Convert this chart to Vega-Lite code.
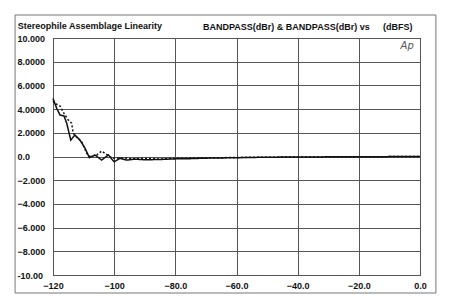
{
  "$schema": "https://vega.github.io/schema/vega-lite/v6.json",
  "width": 367,
  "height": 237,
  "autosize": {"type": "none"},
  "padding": {"left": 53, "top": 38, "right": 30, "bottom": 33},
  "background": "#ffffff",
  "config": {
    "view": {"stroke": "#333333", "strokeWidth": 1},
    "font": "Liberation Sans",
    "axis": {
      "labelFont": "Liberation Sans",
      "labelFontWeight": "bold",
      "labelFontSize": 9,
      "labelColor": "#111111",
      "labelOverlap": false,
      "gridColor": "#555555",
      "gridOpacity": 1,
      "gridWidth": 1,
      "domain": false,
      "ticks": false,
      "title": null
    }
  },
  "datasets": {
    "curves": [
      {"series": "A", "dbfs": -120, "dbr": 4.9},
      {"series": "A", "dbfs": -118.8, "dbr": 4.07},
      {"series": "A", "dbfs": -117.7, "dbr": 3.5},
      {"series": "A", "dbfs": -116.4, "dbr": 3.42},
      {"series": "A", "dbfs": -115.5, "dbr": 2.8},
      {"series": "A", "dbfs": -114.2, "dbr": 1.39},
      {"series": "A", "dbfs": -112.8, "dbr": 1.81},
      {"series": "A", "dbfs": -111.2, "dbr": 1.39},
      {"series": "A", "dbfs": -109.5, "dbr": 0.69},
      {"series": "A", "dbfs": -108.1, "dbr": -0.1},
      {"series": "A", "dbfs": -106.3, "dbr": 0.13},
      {"series": "A", "dbfs": -104.1, "dbr": -0.3},
      {"series": "A", "dbfs": -101.9, "dbr": 0.13},
      {"series": "A", "dbfs": -100, "dbr": -0.44},
      {"series": "A", "dbfs": -98.1, "dbr": -0.15},
      {"series": "A", "dbfs": -95.9, "dbr": -0.3},
      {"series": "A", "dbfs": -93, "dbr": -0.22},
      {"series": "A", "dbfs": -90, "dbr": -0.28},
      {"series": "A", "dbfs": -85, "dbr": -0.25},
      {"series": "A", "dbfs": -80, "dbr": -0.2},
      {"series": "A", "dbfs": -75, "dbr": -0.18},
      {"series": "A", "dbfs": -70, "dbr": -0.14},
      {"series": "A", "dbfs": -60, "dbr": -0.1},
      {"series": "A", "dbfs": -50, "dbr": -0.06},
      {"series": "A", "dbfs": -40, "dbr": -0.04},
      {"series": "A", "dbfs": -20, "dbr": -0.02},
      {"series": "A", "dbfs": 0, "dbr": 0},
      {"series": "B", "dbfs": -120, "dbr": 4.7},
      {"series": "B", "dbfs": -119, "dbr": 4.43},
      {"series": "B", "dbfs": -117.7, "dbr": 4.26},
      {"series": "B", "dbfs": -116.4, "dbr": 3.64},
      {"series": "B", "dbfs": -115, "dbr": 3.08},
      {"series": "B", "dbfs": -113.9, "dbr": 2.8},
      {"series": "B", "dbfs": -113.4, "dbr": 1.96},
      {"series": "B", "dbfs": -112, "dbr": 1.54},
      {"series": "B", "dbfs": -110.6, "dbr": 1.25},
      {"series": "B", "dbfs": -109, "dbr": 0.27},
      {"series": "B", "dbfs": -108, "dbr": 0.0},
      {"series": "B", "dbfs": -105.7, "dbr": 0.13},
      {"series": "B", "dbfs": -104.1, "dbr": 0.46},
      {"series": "B", "dbfs": -103, "dbr": 0.27},
      {"series": "B", "dbfs": -101.4, "dbr": -0.02},
      {"series": "B", "dbfs": -100, "dbr": -0.15},
      {"series": "B", "dbfs": -97, "dbr": -0.12},
      {"series": "B", "dbfs": -94, "dbr": -0.2},
      {"series": "B", "dbfs": -90, "dbr": -0.15},
      {"series": "B", "dbfs": -85, "dbr": -0.22},
      {"series": "B", "dbfs": -80, "dbr": -0.15},
      {"series": "B", "dbfs": -70, "dbr": -0.12},
      {"series": "B", "dbfs": -60, "dbr": -0.08},
      {"series": "B", "dbfs": -40, "dbr": -0.04},
      {"series": "B", "dbfs": 0, "dbr": 0}
    ],
    "one": [{}]
  },
  "layer": [
    {
      "data": {"name": "curves"},
      "mark": {"type": "line", "color": "#111111", "strokeWidth": 1.5},
      "encoding": {
        "x": {
          "field": "dbfs", "type": "quantitative",
          "scale": {"domain": [-120, 0], "nice": false, "zero": false},
          "axis": {
            "values": [-120, -100, -80, -60, -40, -20, 0],
            "tickCount": 7,
            "labelExpr": "datum.value <= -100 ? format(datum.value, 'd') : format(datum.value, '.1f')",
            "labelPadding": 6,
            "labelFlush": false
          }
        },
        "y": {
          "field": "dbr", "type": "quantitative",
          "scale": {"domain": [-10, 10], "nice": false, "zero": false},
          "axis": {
            "values": [-10, -8, -6, -4, -2, 0, 2, 4, 6, 8, 10],
            "tickCount": 11,
            "labelExpr": "datum.value == 10 ? '10.000' : datum.value == -10 ? '-10.00' : datum.value == 0 ? '0.0' : datum.value > 0 ? format(datum.value, '.4f') : format(datum.value, '.3f')",
            "labelAlign": "left",
            "labelBaseline": "middle",
            "labelPadding": 36,
            "labelFlush": false
          }
        },
        "strokeDash": {
          "field": "series", "type": "nominal",
          "scale": {"domain": ["A", "B"], "range": [[1, 0], [2, 2]]},
          "legend": null
        }
      }
    },
    {
      "data": {"name": "one"},
      "mark": {"type": "rect", "fill": null, "stroke": "#777777", "strokeWidth": 1, "clip": false},
      "encoding": {
        "x": {"datum": -132.4, "type": "quantitative", "scale": {"domain": [-120, 0], "nice": false, "zero": false}},
        "x2": {"datum": 5.2},
        "y": {"datum": 11.94, "type": "quantitative", "scale": {"domain": [-10, 10], "nice": false, "zero": false}},
        "y2": {"datum": -11.52}
      }
    },
    {
      "data": {"name": "one"},
      "mark": {"type": "text", "text": "Stereophile  Assemblage Linearity", "align": "left", "baseline": "middle", "font": "Liberation Sans", "fontWeight": "bold", "fontSize": 9, "color": "#111111", "clip": false},
      "encoding": {
        "x": {"datum": -131.5, "type": "quantitative", "scale": {"domain": [-120, 0], "nice": false, "zero": false}},
        "y": {"datum": 11.05, "type": "quantitative", "scale": {"domain": [-10, 10], "nice": false, "zero": false}}
      }
    },
    {
      "data": {"name": "one"},
      "mark": {"type": "text", "text": "BANDPASS(dBr) & BANDPASS(dBr) vs", "align": "left", "baseline": "middle", "font": "Liberation Sans", "fontWeight": "bold", "fontSize": 9, "color": "#111111", "clip": false},
      "encoding": {
        "x": {"datum": -70.95, "type": "quantitative", "scale": {"domain": [-120, 0], "nice": false, "zero": false}},
        "y": {"datum": 10.9, "type": "quantitative", "scale": {"domain": [-10, 10], "nice": false, "zero": false}}
      }
    },
    {
      "data": {"name": "one"},
      "mark": {"type": "text", "text": "(dBFS)", "align": "left", "baseline": "middle", "font": "Liberation Sans", "fontWeight": "bold", "fontSize": 9, "color": "#111111", "clip": false},
      "encoding": {
        "x": {"datum": -12.1, "type": "quantitative", "scale": {"domain": [-120, 0], "nice": false, "zero": false}},
        "y": {"datum": 10.9, "type": "quantitative", "scale": {"domain": [-10, 10], "nice": false, "zero": false}}
      }
    },
    {
      "data": {"name": "one"},
      "mark": {"type": "text", "text": "Ap", "align": "center", "baseline": "middle", "font": "DejaVu Sans", "fontStyle": "italic", "fontSize": 10, "color": "#555555"},
      "encoding": {
        "x": {"datum": -4.2, "type": "quantitative", "scale": {"domain": [-120, 0], "nice": false, "zero": false}},
        "y": {"datum": 9.3, "type": "quantitative", "scale": {"domain": [-10, 10], "nice": false, "zero": false}}
      }
    }
  ]
}
